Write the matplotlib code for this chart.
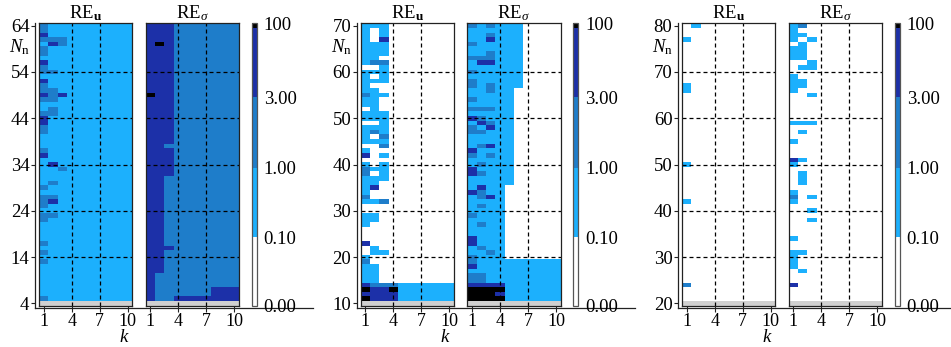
import numpy as np
import matplotlib
matplotlib.use('Agg')
import matplotlib.pyplot as plt
from matplotlib.colors import ListedColormap, FuncNorm
from matplotlib.cm import ScalarMappable

plt.rcParams['font.family'] = ['Liberation Serif', 'DejaVu Serif']
plt.rcParams['mathtext.fontset'] = 'custom'
plt.rcParams['mathtext.rm'] = 'Liberation Serif'
plt.rcParams['mathtext.it'] = 'Liberation Serif:italic'
plt.rcParams['mathtext.bf'] = 'Liberation Serif:bold'

# ---------------- data ----------------
k_values = list(range(1, 11))
k_ticks = [1, 4, 7, 10]
n_ranges = [(4, 64), (10, 70), (20, 80)]
n_ticks = [[4, 14, 24, 34, 44, 54, 64],
           [10, 20, 30, 40, 50, 60, 70],
           [20, 30, 40, 50, 60, 70, 80]]
titles = [r'RE$_{\mathbf{u}}$', r'RE$_{\sigma}$']
cbar_levels = [0, 0.1, 1, 3, 100]
cbar_labels = ['0.00', '0.10', '1.00', '3.00', '100']
# representative error value per colour class: white, light, medium, dark, black
level_value = {'.': 0.05, 'l': 0.5, 'm': 2.0, 'd': 10.0, 'k': 99.0}

# rows listed from the largest N_n (top) downwards, columns k = 1..10
re_u_1 = [
    'mlllllllll', 'mlllllllll', 'dlllllllll', 'mmmlllllll', 'ldmlllllll',
    'mlllllllll', 'mlllllllll', 'llllllllll', 'dlllllllll', 'mlllllllll',
    'mmllllllll', 'llllllllll', 'dlllllllll', 'mlllllllll', 'mmllllllll',
    'dmdlllllll', 'mmllllllll', 'llllllllll', 'lmllllllll', 'mmllllllll',
    'dlllllllll', 'dlllllllll', 'mlllllllll', 'mlllllllll', 'llllllllll',
    'llllllllll', 'llllllllll', 'mlllllllll', 'dlllllllll', 'llllllllll',
    'ldllllllll', 'llmlllllll', 'llllllllll', 'llllllllll', 'lmllllllll',
    'mlllllllll', 'llllllllll', 'mmllllllll', 'mdllllllll', 'mlllllllll',
    'llllllllll', 'mmllllllll', 'mlllllllll', 'llllllllll', 'llllllllll',
    'llllllllll', 'llllllllll', 'mlllllllll', 'llllllllll', 'mlllllllll',
    'llllllllll', 'mlllllllll', 'llllllllll', 'llllllllll', 'llllllllll',
    'llllllllll', 'llllllllll', 'llllllllll', 'llllllllll', 'mlllllllll',
]
re_s_1 = [
    'dddmmmmmmm', 'dddmmmmmmm', 'dddmmmmmmm', 'dddmmmmmmm', 'dkdmmmmmmm',
    'dddmmmmmmm', 'dddmmmmmmm', 'dddmmmmmmm', 'dddmmmmmmm', 'dddmmmmmmm',
    'dddmmmmmmm', 'dddmmmmmmm', 'dddmmmmmmm', 'dddmmmmmmm', 'dddmmmmmmm',
    'kddmmmmmmm', 'dddmmmmmmm', 'dddmmmmmmm', 'dddmmmmmmm', 'dddmmmmmmm',
    'dddmmmmmmm', 'dddmmmmmmm', 'dddmmmmmmm', 'dddmmmmmmm', 'dddmmmmmmm',
    'dddmmmmmmm', 'ddmmmmmmmm', 'dddmmmmmmm', 'dddmmmmmmm', 'dddmmmmmmm',
    'dddmmmmmmm', 'dddmmmmmmm', 'dddmmmmmmm', 'ddmmmmmmmm', 'ddmmmmmmmm',
    'ddmmmmmmmm', 'ddmmmmmmmm', 'ddmmmmmmmm', 'ddmmmmmmmm', 'ddmmmmmmmm',
    'ddmmmmmmmm', 'ddmmmmmmmm', 'ddmmmmmmmm', 'ddmmmmmmmm', 'ddmmmmmmmm',
    'ddmmmmmmmm', 'ddmmmmmmmm', 'ddmmmmmmmm', 'dddmmmmmmm', 'ddmmmmmmmm',
    'ddmmmmmmmm', 'ddmmmmmmmm', 'ddmmmmmmmm', 'ddmmmmmmmm', 'dmmmmmmmmm',
    'dmmmmmmmmm', 'dmmmmmmmmm', 'dmmmmmmddd', 'dmmmmmmddd', 'dmmddddddd',
]
re_u_2 = [
    'lll.......', 'l.l.......', 'l.l.......', 'l.d.......', 'lll.......',
    'lll.......', 'lll.......', 'll........', 'lmm.......', '..l.......',
    'lll.......', 'l.l.......', 'lll.......', 'l.........', 'll........',
    'mll.......', 'll........', 'll........', '.l........', 'lll.......',
    'lll.......', '..l.......', 'lll.......', 'lml.......', 'l.m.......',
    'lll.......', '..m.......', 'l.........', 'd.l.......', '..........',
    'l.l.......', 'mll.......', 'm.l.......', 'lll.......', 'll........',
    'ld........', 'l.........', 'm.........', 'llm.......', '..........',
    '..........', 'll........', 'll........', 'l.........', '..........',
    '..........', '..........', 'd.........', '.l........', '.ll.......',
    'l.........', 'm.........', 'll........', 'll........', 'll........',
    'll........', 'dmmmllllll', 'kddkllllll', 'ddddllllll', 'kdddllllll',
]
re_s_2 = [
    'mlmlll....', 'llllll....', 'llmlll....', 'lldlll....', 'mlllll....',
    'llllll....', 'llmlll....', 'mmmlll....', 'lddlll....', 'llllll....',
    'mlllll....', 'llllll....', 'mlllll....', 'mlmlll....', 'llmll.....',
    'lllll.....', 'mllll.....', 'lllll.....', 'mmmll.....', 'lllll.....',
    'dmlll.....', 'ldmll.....', 'mldll.....', 'mmlll.....', 'lllll.....',
    'lllll.....', 'lmdll.....', 'dllll.....', 'mlmll.....', 'lllll.....',
    'lmlll.....', 'dllll.....', 'dmlll.....', 'lllll.....', 'lllll.....',
    'ldll......', 'dmll......', 'lmdl......', 'llll......', 'lmll......',
    'llll......', 'mlll......', 'llll......', 'lmll......', 'llll......',
    'llll......', 'dlll......', 'dlll......', 'lmll......', 'llml......',
    'mlll......', 'mlllllllll', 'dlllllllll', 'llllllllll', 'mmllllllll',
    'mmllllllll', 'ddddllllll', 'kkkkllllll', 'kkkdllllll', 'kkkkllllll',
]
re_u_3 = [
    '.l........', '..........', '..........', 'l.........', '..........',
    '..........', '..........', '..........', '..........', '..........',
    '..........', '..........', '..........', 'l.........', 'l.........',
    '..........', '..........', '..........', '..........', '..........',
    '..........', '..........', '..........', '..........', '..........',
    '..........', '..........', '..........', '..........', '..........',
    'l.........', '..........', '..........', '..........', '..........',
    '..........', '..........', '..........', 'l.........', '..........',
    '..........', '..........', '..........', '..........', '..........',
    '..........', '..........', '..........', '..........', '..........',
    '..........', '..........', '..........', '..........', '..........',
    '..........', 'm.........', '..........', '..........', '..........',
]
re_s_3 = [
    'lm........', 'l.........', 'll........', 'l.l.......', '.l........',
    'll........', 'll........', 'll........', '..l.......', '.ll.......',
    '..........', 'l.........', 'll........', 'll........', 'l.........',
    '..l.......', '..........', '..........', '..........', '..........',
    '..........', 'lll.......', '..........', '.l........', '..........',
    'l.........', '..........', '..........', '..........', 'dl........',
    'l.........', '..........', '.l........', '.l........', '.l........',
    '..........', 'l.........', 'm.l.......', 'l.........', '..........',
    '..l.......', '..........', '..l.......', '..........', '..........',
    '..........', 'l.........', '..........', '..........', 'll........',
    'l.........', 'l.........', 'l.........', '.l........', '..........',
    '..........', 'd.........', '..........', '..........', '..........',
]
panels = [(re_u_1, re_s_1), (re_u_2, re_s_2), (re_u_3, re_s_3)]

# ---------------- colours / norm ----------------
c_white, c_light, c_med, c_dark, c_black = '#ffffff', '#1cb0fd', '#1e7dca', '#1c30a8', '#000000'
frac = [0, 0.243, 0.489, 0.738, 1.0]
nseg = 1000
cols = []
for i in range(nseg):
    p = (i + 0.5) / nseg
    if p < frac[1]:
        cols.append(c_white)
    elif p < frac[2]:
        cols.append(c_light)
    elif p < frac[3]:
        cols.append(c_med)
    elif p < 0.982:
        cols.append(c_dark)
    else:
        cols.append(c_black)
cmap = ListedColormap(cols)
cmap.set_bad('#d0d0d0')


def fwd(v):
    return np.interp(v, cbar_levels, frac)


def inv(p):
    return np.interp(p, frac, cbar_levels)


norm = FuncNorm((fwd, inv), vmin=0, vmax=100)


def to_grid(rows):
    g = np.array([[level_value[c] for c in r] for r in rows[::-1]], dtype=float)
    nanrow = np.full((1, g.shape[1]), np.nan)
    return np.ma.masked_invalid(np.vstack([nanrow, g]))


# ---------------- layout (pixels) ----------------
W, H = 951, 347
fig = plt.figure(figsize=(W / 100, H / 100), dpi=100)


def px_axes(x, ytop, w, h, **kw):
    return fig.add_axes([x / W, 1 - (ytop + h) / H, w / W, h / H], **kw)


group_x = [39, 360.7, 682]
top, hm_h, hm_w = 23.3, 282.4, 93.4
edge = '#222222'
fs = 13.5
fs_x = 13
dash = (0, (3.2, 2.4))

for g, (x0, (nmin, nmax), yt, data) in enumerate(zip(group_x, n_ranges, n_ticks, panels)):
    ylo, yhi = nmin - 0.5, nmax + 0.5
    # background axes carrying the detached y spine and the long bottom line
    bg = px_axes(x0 - 4, top, 278, hm_h + 2)
    bg.patch.set_visible(False)
    bg.set_zorder(0)
    bg.set_xlim(0, 1)
    bg.set_ylim(ylo - 2 * (yhi - ylo) / hm_h, yhi)
    bg.set_xticks([])
    bg.set_yticks(yt)
    bg.set_yticklabels([str(v) for v in yt])
    bg.tick_params(axis='y', length=3, width=0.8, pad=1, labelsize=fs, color=edge)
    for s in ['top', 'right']:
        bg.spines[s].set_visible(False)
    for s in ['left', 'bottom']:
        bg.spines[s].set_color(edge)
        bg.spines[s].set_linewidth(0.9)

    for j in range(2):
        ax = px_axes(x0 + j * 106.6, top, hm_w, hm_h)
        ax.set_zorder(1)
        grid = to_grid(data[j])
        xe = np.arange(0.5, len(k_values) + 1)
        ye = np.arange(nmin - 0.5, nmax + 1.5)
        ax.pcolormesh(xe, ye, grid, cmap=cmap, norm=norm, shading='flat')
        ax.set_xlim(0.5, 10.5)
        ax.set_ylim(ylo, yhi)
        for kv in k_ticks[1:3]:
            ax.axvline(kv, color='k', lw=0.9, ls=dash)
        for nv in yt[1:-1]:
            ax.axhline(nv, color='k', lw=0.9, ls=dash)
        ax.set_xticks(k_ticks)
        ax.set_xticklabels([str(v) for v in k_ticks])
        ax.set_yticks([])
        ax.tick_params(axis='x', length=4, width=0.8, pad=1, labelsize=fs_x, color=edge)
        for s in ax.spines.values():
            s.set_color(edge)
            s.set_linewidth(0.9)
        ax.set_title(titles[j], fontsize=fs, pad=3)

    cax = px_axes(x0 + 212.7, top, 5, hm_h)
    cb = fig.colorbar(ScalarMappable(norm=norm, cmap=cmap), cax=cax)
    cb.set_ticks(cbar_levels)
    cb.set_ticklabels(cbar_labels)
    cb.ax.tick_params(length=0, pad=5, labelsize=fs)
    cb.outline.set_edgecolor('#555555')
    cb.outline.set_linewidth(0.9)

    fig.text((x0 - 19) / W, 1 - 47 / H, r'$N_{\mathrm{n}}$', ha='center', va='center', fontsize=fs)
    fig.text((x0 + 85) / W, 1 - 329 / H, r'$k$', ha='center', va='top', fontsize=fs)

fig.savefig('out.png', dpi=100)
